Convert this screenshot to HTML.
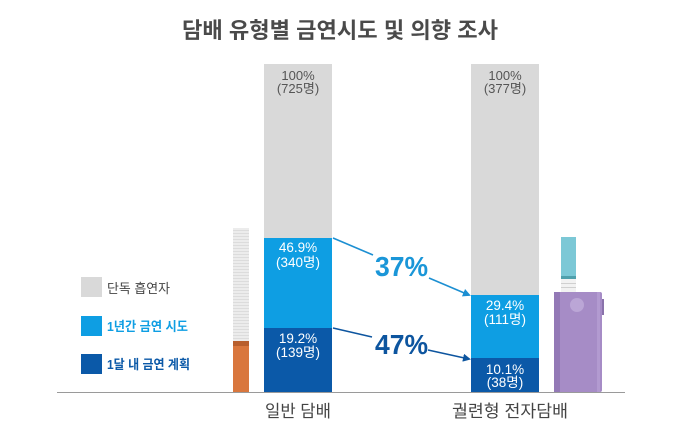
<!DOCTYPE html>
<html><head><meta charset="utf-8"><style>
html,body{margin:0;padding:0;background:#fff;width:680px;height:441px;overflow:hidden}
svg{display:block}
text{font-family:"Liberation Sans","Noto Sans CJK KR",sans-serif}
</style></head><body>
<svg width="680" height="441" viewBox="0 0 680 441" xmlns="http://www.w3.org/2000/svg">
<defs>
<pattern id="paper" width="4" height="3" patternUnits="userSpaceOnUse">
<rect width="4" height="3" fill="#ececec"/>
<rect y="2" width="4" height="1" fill="#dcdcdc"/>
</pattern>
<marker id="a1" markerWidth="8" markerHeight="8" refX="6" refY="4" orient="auto" markerUnits="userSpaceOnUse"><path d="M0,0 L8,4 L0,8 Z" fill="#1c8fd2"/></marker>
<marker id="a2" markerWidth="8" markerHeight="8" refX="6" refY="4" orient="auto" markerUnits="userSpaceOnUse"><path d="M0,0 L8,4 L0,8 Z" fill="#0d559f"/></marker>
</defs>
<rect width="680" height="441" fill="#fff"/>
<!-- Title -->
<text x="182" y="38" font-size="22" font-weight="bold" fill="#4a4a4a" textLength="316" lengthAdjust="spacingAndGlyphs">담배 유형별 금연시도 및 의향 조사</text>

<!-- Left bar -->
<rect x="264" y="64" width="68" height="174" fill="#d9d9d9"/>
<rect x="264" y="238" width="68" height="90" fill="#0e9ee3"/>
<rect x="264" y="328" width="68" height="64" fill="#0b59a8"/>
<text x="298" y="80" font-size="13" fill="#555" text-anchor="middle">100%</text>
<text x="298" y="93" font-size="13" fill="#555" text-anchor="middle">(725명)</text>
<text x="298" y="252" font-size="13.5" fill="#fff" text-anchor="middle">46.9%</text>
<text x="298" y="267" font-size="13.5" fill="#fff" text-anchor="middle">(340명)</text>
<text x="298" y="343" font-size="13.5" fill="#fff" text-anchor="middle">19.2%</text>
<text x="298" y="357" font-size="13.5" fill="#fff" text-anchor="middle">(139명)</text>

<!-- Right bar -->
<rect x="471" y="64" width="68" height="231" fill="#d9d9d9"/>
<rect x="471" y="295" width="68" height="63" fill="#0e9ee3"/>
<rect x="471" y="358" width="68" height="34" fill="#0b59a8"/>
<text x="505" y="80" font-size="13" fill="#555" text-anchor="middle">100%</text>
<text x="505" y="93" font-size="13" fill="#555" text-anchor="middle">(377명)</text>
<text x="505" y="310" font-size="13.5" fill="#fff" text-anchor="middle">29.4%</text>
<text x="505" y="324" font-size="13.5" fill="#fff" text-anchor="middle">(111명)</text>
<text x="505" y="374" font-size="13.5" fill="#fff" text-anchor="middle">10.1%</text>
<text x="505" y="387" font-size="13.5" fill="#fff" text-anchor="middle">(38명)</text>

<!-- Cigarette -->
<rect x="233" y="228" width="16" height="113" fill="url(#paper)"/>
<rect x="233" y="341" width="16" height="51" fill="#d9773e"/>
<rect x="233" y="341" width="16" height="5" fill="#b85f2e"/>

<!-- Device -->
<rect x="561" y="237" width="15" height="41" fill="#7cc8d6"/>
<rect x="561" y="276" width="15" height="3" fill="#4fa0ac"/>
<rect x="561" y="279" width="15" height="13" fill="#f2f2f2"/>
<rect x="561" y="283" width="15" height="1" fill="#d0d0d0"/>
<rect x="561" y="287" width="15" height="1" fill="#d0d0d0"/>
<rect x="601" y="299" width="3" height="16" fill="#8a72ab"/>
<rect x="554" y="292" width="48" height="100" rx="2" fill="#a68cc6"/>
<rect x="554" y="292" width="6" height="100" fill="#9379b6"/>
<rect x="597" y="292" width="3" height="100" fill="#b29ad0"/>
<circle cx="577" cy="305" r="7" fill="#bba6d6"/>

<!-- Baseline -->
<line x1="57" y1="392.5" x2="625" y2="392.5" stroke="#9a9a9a" stroke-width="1"/>

<!-- Arrows -->
<line x1="333" y1="238" x2="373" y2="255" stroke="#1c8fd2" stroke-width="1.6"/>
<line x1="429" y1="278" x2="469" y2="295" stroke="#1c8fd2" stroke-width="1.6" marker-end="url(#a1)"/>
<text x="375" y="276" font-size="28" font-weight="bold" fill="#1a96d8" textLength="53" lengthAdjust="spacingAndGlyphs">37%</text>
<line x1="333" y1="328" x2="372" y2="337" stroke="#0d559f" stroke-width="1.6"/>
<line x1="428" y1="350" x2="469" y2="359" stroke="#0d559f" stroke-width="1.6" marker-end="url(#a2)"/>
<text x="375" y="354" font-size="28" font-weight="bold" fill="#0d559f" textLength="53" lengthAdjust="spacingAndGlyphs">47%</text>

<!-- Legend -->
<rect x="81" y="277" width="21" height="20" fill="#d9d9d9"/>
<text x="107" y="293" font-size="13" fill="#444" textLength="63" lengthAdjust="spacingAndGlyphs">단독 흡연자</text>
<rect x="81" y="316" width="21" height="20" fill="#0e9ee3"/>
<text x="107" y="331" font-size="13" font-weight="bold" fill="#0e9ee3" textLength="81" lengthAdjust="spacingAndGlyphs">1년간 금연 시도</text>
<rect x="81" y="354" width="21" height="20" fill="#0b59a8"/>
<text x="107" y="369" font-size="13" font-weight="bold" fill="#0b59a8" textLength="83" lengthAdjust="spacingAndGlyphs">1달 내 금연 계획</text>

<!-- X labels -->
<text x="265" y="417" font-size="17" fill="#444" textLength="66" lengthAdjust="spacingAndGlyphs">일반 담배</text>
<text x="452" y="417" font-size="17" fill="#444" textLength="116" lengthAdjust="spacingAndGlyphs">궐련형 전자담배</text>
</svg>
</body></html>
